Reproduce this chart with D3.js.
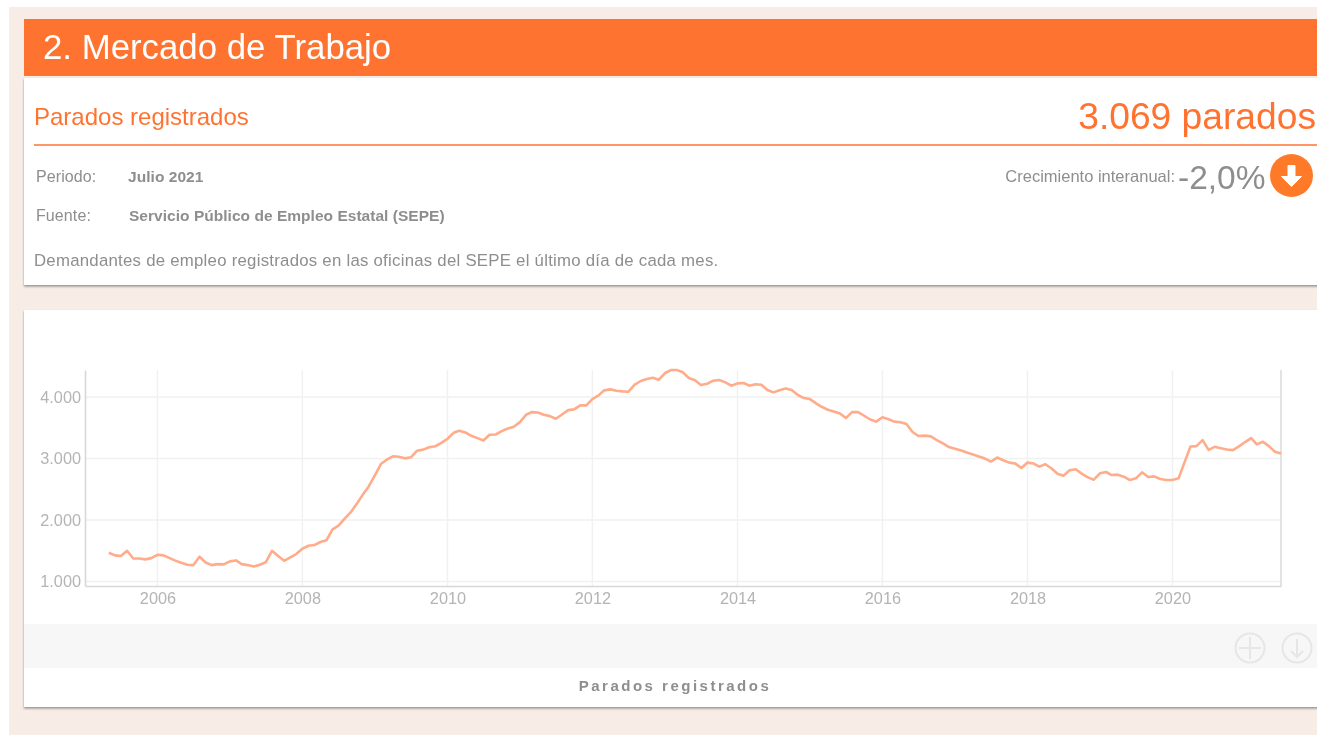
<!DOCTYPE html>
<html lang="es">
<head>
<meta charset="utf-8">
<title>Parados registrados</title>
<script src="https://cdn.jsdelivr.net/npm/d3@7"></script>
<style>
  html, body { margin: 0; padding: 0; background: #fff; overflow: hidden; }
  svg { display: block; font-family: "Liberation Sans", Arial, sans-serif; filter: blur(0.35px); }
  .tick text { font-family: "Liberation Sans", Arial, sans-serif; font-size: 16.3px; fill: #b4b4b4; }
</style>
</head>
<body>
<div id="chart"></div>
<script>
// Miles de parados, un valor por mes desde mayo de 2005 hasta julio de 2021
const START_MONTH = new Date(2005, 4, 1);
const END_MONTH = new Date(2021, 6, 1);
const parados = [
  1468, 1425, 1414, 1500, 1375, 1375, 1360, 1380,
  1435, 1425, 1385, 1340, 1305, 1272, 1267, 1403, 1310, 1267, 1283, 1278,
  1327, 1343, 1283, 1267, 1245, 1272, 1315, 1500, 1414, 1337, 1392, 1446,
  1533, 1582, 1593, 1642, 1670, 1849, 1909, 2023, 2127, 2263, 2415, 2551,
  2731, 2916, 2981, 3036, 3030, 3003, 3020, 3128, 3145, 3183, 3200, 3254,
  3321, 3418, 3451, 3424, 3370, 3332, 3293, 3386, 3391, 3446, 3489, 3516,
  3592, 3712, 3755, 3750, 3712, 3690, 3647, 3717, 3788, 3799, 3864, 3864,
  3967, 4027, 4109, 4125, 4103, 4092, 4087, 4201, 4261, 4293, 4315, 4283,
  4391, 4440, 4440, 4402, 4310, 4272, 4196, 4217, 4266, 4277, 4239, 4185,
  4223, 4228, 4185, 4207, 4201, 4114, 4076, 4109, 4141, 4114, 4033, 3984,
  3967, 3897, 3842, 3793, 3766, 3734, 3658, 3755, 3755, 3696, 3635, 3600,
  3672, 3639, 3601, 3590, 3563, 3432, 3366, 3372, 3361, 3300, 3246, 3186,
  3158, 3131, 3098, 3066, 3033, 3000, 2951, 3016, 2973, 2934, 2918, 2847,
  2934, 2918, 2869, 2907, 2842, 2754, 2721, 2809, 2825, 2754, 2694, 2656,
  2760, 2781, 2732, 2738, 2705, 2650, 2678, 2776, 2699, 2710, 2667, 2650,
  2650, 2678, 2929, 3197, 3202, 3300, 3142, 3191, 3169, 3148, 3137, 3197,
  3268, 3333, 3230, 3273, 3202, 3109, 3082
];
const yTicks = [1000, 2000, 3000, 4000];
const xTickYears = [2006, 2008, 2010, 2012, 2014, 2016, 2018, 2020];

const ORANGE = "#ff7330";
const GREY_TEXT = "#8e8e8e";
const width = 1317;
const height = 735;

const months = d3.timeMonth.range(START_MONTH, d3.timeMonth.offset(END_MONTH, 1));
const serie = months.map((d, i) => ({ date: d, value: parados[i] }));

const locale = d3.formatLocale({ decimal: ",", thousands: ".", grouping: [3], currency: ["", " €"] });
const formatMiles = locale.format(",d");

const svg = d3.select("#chart").append("svg")
  .attr("width", width)
  .attr("height", height);

const shadow = svg.append("defs").append("filter")
  .attr("id", "sombra")
  .attr("x", "-2%").attr("y", "-5%")
  .attr("width", "104%").attr("height", "112%");
shadow.append("feDropShadow")
  .attr("dx", 0).attr("dy", 1.5)
  .attr("stdDeviation", 1.2)
  .attr("flood-color", "#000")
  .attr("flood-opacity", 0.4);

// Fondo y tarjetas
svg.append("rect").attr("x", 9).attr("y", 7).attr("width", width).attr("height", height).attr("fill", "#f7ece6");
svg.append("rect").attr("x", 24).attr("y", 19).attr("width", width).attr("height", 57).attr("fill", ORANGE);
svg.append("rect").attr("x", 24).attr("y", 78).attr("width", width).attr("height", 207).attr("fill", "#fff").attr("filter", "url(#sombra)");
svg.append("rect").attr("x", 24).attr("y", 310).attr("width", width).attr("height", 397).attr("fill", "#fff").attr("filter", "url(#sombra)");
svg.append("rect").attr("x", 24).attr("y", 624).attr("width", width).attr("height", 44).attr("fill", "#f7f7f7");

// Textos de cabecera
function label(x, y, text, size, color, opts) {
  opts = opts || {};
  return svg.append("text")
    .attr("x", x).attr("y", y)
    .attr("font-size", size)
    .attr("fill", color)
    .attr("font-weight", opts.bold ? "bold" : null)
    .attr("text-anchor", opts.anchor || "start")
    .attr("letter-spacing", opts.spacing || null)
    .text(text);
}

label(43, 59, "2. Mercado de Trabajo", 34.8, "#fff");
label(34, 125, "Parados registrados", 24, ORANGE);
label(1316, 129, "3.069 parados", 37.2, ORANGE, { anchor: "end" });
svg.append("line").attr("x1", 34).attr("x2", width).attr("y1", 145).attr("y2", 145).attr("stroke", ORANGE).attr("stroke-width", 1.4);

label(36, 182, "Periodo:", 16, GREY_TEXT, { spacing: "0.1px" });
label(128, 182, "Julio 2021", 15.5, GREY_TEXT, { bold: true, spacing: "0.05px" });
label(36, 221, "Fuente:", 16, GREY_TEXT, { spacing: "0.1px" });
label(129, 221, "Servicio Público de Empleo Estatal (SEPE)", 15.5, GREY_TEXT, { bold: true, spacing: "0.03px" });
label(34, 266, "Demandantes de empleo registrados en las oficinas del SEPE el último día de cada mes.", 16.8, GREY_TEXT, { spacing: "0.25px" });

label(1175, 182, "Crecimiento interanual:", 16.5, GREY_TEXT, { anchor: "end" });
label(1265.5, 189, "-2,0%", 33.5, GREY_TEXT, { anchor: "end" });

// Icono de bajada
const bajada = svg.append("g").attr("transform", "translate(1291.5,175.5)");
bajada.append("circle").attr("r", 21.5).attr("fill", "#ff7a28");
bajada.append("path").attr("d", "M-3.5,-10H3.5V1H10L0,11L-10,1H-3.5Z").attr("fill", "#fff").attr("stroke", "#fff").attr("stroke-linejoin", "round");

// Escalas y ejes
const x = d3.scaleTime()
  .domain([new Date(2005, 0, 1), END_MONTH])
  .range([85, 1281]);
const y = d3.scaleLinear()
  .domain([927, 4440])
  .range([586, 370]);

const xTicks = xTickYears.map((yr) => new Date(yr, 0, 1));

const grid = svg.append("g").attr("stroke", "#f1f1f1").attr("stroke-width", 1.5);
grid.selectAll("line.h").data(yTicks).enter().append("line")
  .attr("class", "h")
  .attr("x1", x.range()[0]).attr("x2", x.range()[1])
  .attr("y1", (d) => y(d)).attr("y2", (d) => y(d));
grid.selectAll("line.v").data(xTicks).enter().append("line")
  .attr("class", "v")
  .attr("x1", (d) => x(d)).attr("x2", (d) => x(d))
  .attr("y1", y.range()[0]).attr("y2", y.range()[1]);

const xAxis = svg.append("g")
  .attr("transform", "translate(0," + y.range()[0] + ")")
  .call(d3.axisBottom(x).tickValues(xTicks).tickSize(0).tickPadding(6).tickFormat(d3.timeFormat("%Y")));
const yAxis = svg.append("g")
  .attr("transform", "translate(" + x.range()[0] + ",0)")
  .call(d3.axisLeft(y).tickValues(yTicks).tickSize(0).tickPadding(4).tickFormat(formatMiles));
xAxis.select(".domain").attr("stroke", "#d8d8d8").attr("stroke-width", 1.6);
yAxis.select(".domain").attr("stroke", "#d8d8d8").attr("stroke-width", 1.6);

svg.append("line")
  .attr("x1", x.range()[1]).attr("x2", x.range()[1])
  .attr("y1", y.range()[0]).attr("y2", y.range()[1])
  .attr("stroke", "#dcdcdc").attr("stroke-width", 1.6);

// Serie
const line = d3.line()
  .x((d) => x(d.date))
  .y((d) => y(d.value));

svg.append("path")
  .datum(serie)
  .attr("fill", "none")
  .attr("stroke", "#ffac8a")
  .attr("stroke-width", 2.6)
  .attr("stroke-linejoin", "round")
  .attr("d", line);

// Iconos de la barra gris
const mas = svg.append("g").attr("transform", "translate(1250,648)").attr("fill", "none").attr("stroke", "#e6e6e6").attr("stroke-width", 2);
mas.append("circle").attr("r", 14.5);
mas.append("path").attr("d", "M-11,0H11M0,-11V11");
const descarga = svg.append("g").attr("transform", "translate(1297,648)").attr("fill", "none").attr("stroke", "#e6e6e6").attr("stroke-width", 2);
descarga.append("circle").attr("r", 14.5);
descarga.append("path").attr("d", "M0,-9V9M-6,3L0,9L6,3");

label(675, 691, "Parados registrados", 15, GREY_TEXT, { bold: true, anchor: "middle", spacing: "2.5px" });
</script>
</body>
</html>
